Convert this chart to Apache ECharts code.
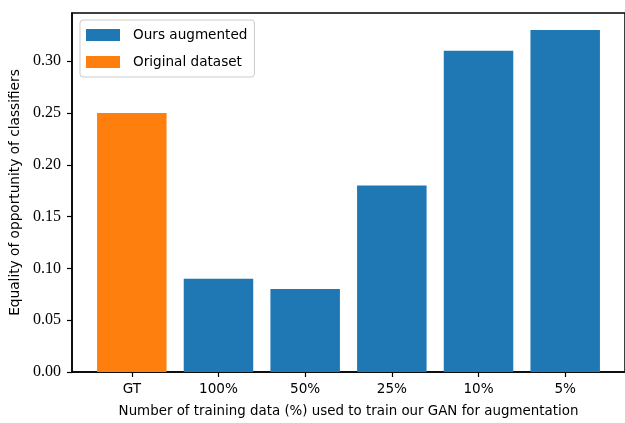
<!DOCTYPE html>
<html>
<head>
<meta charset="utf-8">
<script src="https://cdn.jsdelivr.net/npm/echarts@6/dist/echarts.min.js"></script>
<style>html,body{margin:0;padding:0;background:#fff}#c{width:625px;height:423px}</style>
</head>
<body>
<div id="c"></div>
<script>
const categories = ["GT", "100%", "50%", "25%", "10%", "5%"];
const oursAugmented = [null, 0.09, 0.08, 0.18, 0.31, 0.33];
const originalDataset = [0.25, null, null, null, null, null];
const yTicks = [0, 0.05, 0.10, 0.15, 0.20, 0.25, 0.30];
const xTicks = [0, 1, 2, 3, 4, 5];

const chart = echarts.init(document.getElementById('c'), null, {renderer: 'canvas'});
const sans = '"DejaVu Sans", sans-serif';
const serif = '"Liberation Serif", serif';
const toPairs = arr => arr.map((v, i) => [i, v]);

chart.setOption({
  animation: false,
  backgroundColor: '#fff',
  grid: {left: 72, top: 13, width: 554, height: 360, show: true, borderColor: '#000', borderWidth: 1.5, backgroundColor: 'transparent'},
  legend: {
    orient: 'vertical', left: 80, top: 20,
    padding: [8, 7, 8, 6], itemGap: 13, itemWidth: 34, itemHeight: 12,
    icon: 'rect',
    backgroundColor: 'rgba(255,255,255,0.8)', borderColor: '#cccccc', borderWidth: 1, borderRadius: 3,
    textStyle: {fontFamily: sans, fontSize: 13.6, color: '#000', padding: [0, 0, 0, 8]},
    data: ['Ours augmented', 'Original dataset']
  },
  xAxis: {
    type: 'value', min: -0.69, max: 5.69,
    name: 'Number of training data (%) used to train our GAN for augmentation',
    nameLocation: 'middle', nameGap: 33,
    nameTextStyle: {fontFamily: sans, fontSize: 13.4, color: '#000'},
    splitLine: {show: false},
    axisLine: {onZero: false, lineStyle: {color: '#000', width: 1.5}},
    axisTick: {show: true, length: 5, lineStyle: {color: '#000', width: 1.2}, customValues: xTicks},
    axisLabel: {customValues: xTicks, formatter: v => categories[Math.round(v)], fontFamily: sans, fontSize: 13.6, color: '#000', margin: 10}
  },
  yAxis: {
    type: 'value', min: 0, max: 0.3465,
    name: 'Equality of opportunity of classifiers',
    nameLocation: 'middle', nameGap: 46,
    nameTextStyle: {fontFamily: sans, fontSize: 13.7, color: '#000'},
    splitLine: {show: false},
    axisLine: {show: true, onZero: false, lineStyle: {color: '#000', width: 1.5}},
    axisTick: {show: true, length: 5, lineStyle: {color: '#000', width: 1.2}, customValues: yTicks},
    axisLabel: {customValues: yTicks, formatter: v => v.toFixed(2), fontFamily: serif, fontSize: 16, color: '#000', margin: 11}
  },
  series: [
    {name: 'Ours augmented', type: 'bar', data: toPairs(oursAugmented), barWidth: 69.5, barGap: '-100%', itemStyle: {color: '#1f77b4'}},
    {name: 'Original dataset', type: 'bar', data: toPairs(originalDataset), barWidth: 69.5, barGap: '-100%', itemStyle: {color: '#ff7f0e'}}
  ]
});
</script>
</body>
</html>
